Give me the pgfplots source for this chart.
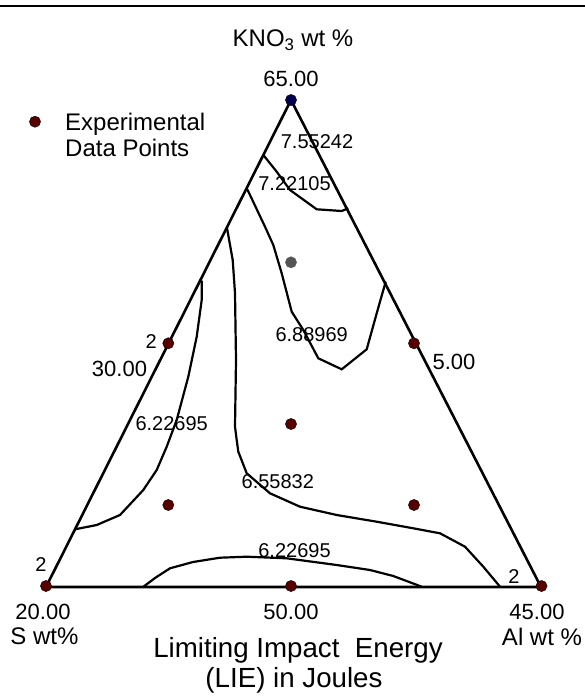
\documentclass[border=0pt]{standalone}
\usepackage{pgfplots}
\pgfplotsset{compat=1.18}
\usepackage{fontspec}
\setmainfont{Liberation Sans}
\definecolor{maroon}{RGB}{88,0,0}
\definecolor{navydot}{RGB}{0,0,80}
\definecolor{graydot}{RGB}{85,85,85}
\tikzset{
  cl/.style={anchor=base, inner sep=0pt, font=\fontsize{20}{24}\selectfont},
  tl/.style={anchor=base, inner sep=0pt, font=\fontsize{22}{26}\selectfont},
  nl/.style={anchor=base, inner sep=0pt, font=\fontsize{24}{28}\selectfont},
}
\begin{document}
\begin{tikzpicture}
\begin{axis}[name=ax,
  scale only axis, width=585pt, height=696pt,
  xmin=0, xmax=585, ymin=0, ymax=696, y dir=reverse,
  hide axis, clip=false,
]
% top rule
\addplot[black, line width=2.6pt] coordinates {(0,6) (585,6)};
% triangle
\addplot[black, line width=2.6pt] coordinates {(291,100) (46,587) (541,587) (291,100)};
% contour A
\addplot[black, line width=2.2pt] coordinates {(263.3,155) (276.7,171.7) (290,190) (316.7,209.3) (341.7,211) (348.3,208.3)};
% contour B
\addplot[black, line width=2.2pt] coordinates {(247.3,189.3) (265,226.7) (273.3,245) (281.7,273.3) (291.7,311.7) (303.3,330) (318.3,358.3) (341.7,369.3) (366.7,349.3) (376.7,313.3) (385.7,281.7)};
% contour C
\addplot[black, line width=2.2pt] coordinates {(201.7,280.7) (201.7,300) (196.7,336.7) (188.3,376.7) (176.7,420) (166.7,446.7) (156.7,470) (143.3,490) (120,515) (96.7,525) (75,529.3)};
% contour D
\addplot[black, line width=2.2pt] coordinates {(227,228) (232.7,260) (235,293) (236,360) (235,426.7) (236.7,440) (238.3,451.7) (246.7,473.3) (270,493.3) (300,506.7) (336.7,515) (376.7,521.7) (413.3,528.3) (440,533.3) (465,546.7) (483.3,566.7) (500,586.7)};
% contour E
\addplot[black, line width=2.2pt] coordinates {(143,587) (155,578) (170,568.3) (193,562) (220,557.7) (246.7,556.7) (286.7,558.3) (336.7,565) (370,570) (393.3,576) (421.7,586.7)};
% data points
\addplot[only marks, mark=*, mark size=5.6pt, mark options={fill=maroon, draw=black, line width=0.4pt}] coordinates {
 (168.3,343.3) (414,343.3) (291,424) (168.3,505) (414,505) (46,586) (291,586) (541.5,586) (35,121.7)};
\addplot[only marks, mark=*, mark size=5.6pt, mark options={fill=navydot, draw=black, line width=0.4pt}] coordinates {(291,100)};
\addplot[only marks, mark=*, mark size=5.6pt, mark options={fill=graydot, draw=graydot, line width=0.4pt}] coordinates {(291,262.3)};
% labels
\node[nl] at (axis cs:293,46.7) {KNO\textsubscript{3} wt \%};
\node[tl] at (axis cs:291,86) {65.00};
\node[cl] at (axis cs:317,148) {7.55242};
\node[cl] at (axis cs:294.5,190) {7.22105};
\node[cl] at (axis cs:311.7,341.7) {6.88969};
\node[cl] at (axis cs:151.3,348.3) {2};
\node[tl] at (axis cs:119.5,376.7) {30.00};
\node[tl] at (axis cs:454,369.3) {5.00};
\node[cl] at (axis cs:171.7,430.7) {6.22695};
\node[cl] at (axis cs:277.8,488.3) {6.55832};
\node[cl] at (axis cs:294.5,557.3) {6.22695};
\node[cl] at (axis cs:514,583.3) {2};
\node[cl] at (axis cs:41,571.7) {2};
\node[tl] at (axis cs:43,619) {20.00};
\node[nl] at (axis cs:44.5,644) {S wt\%};
\node[tl] at (axis cs:291,619) {50.00};
\node[tl] at (axis cs:537,619) {45.00};
\node[nl] at (axis cs:542,645) {Al wt \%};
\node[anchor=base, inner sep=0pt, font=\fontsize{27.7}{32}\selectfont] at (axis cs:298,657) {Limiting Impact\ \ Energy};
\node[anchor=base, inner sep=0pt, font=\fontsize{27.7}{32}\selectfont] at (axis cs:294,687) {(LIE) in Joules};
\node[nl, anchor=base west] at (axis cs:65,130) {Experimental};
\node[nl, anchor=base west] at (axis cs:65,156.7) {Data Points};
\end{axis}
\pgfresetboundingbox
\useasboundingbox (ax.south west) rectangle (ax.north east);
\end{tikzpicture}
\end{document}
